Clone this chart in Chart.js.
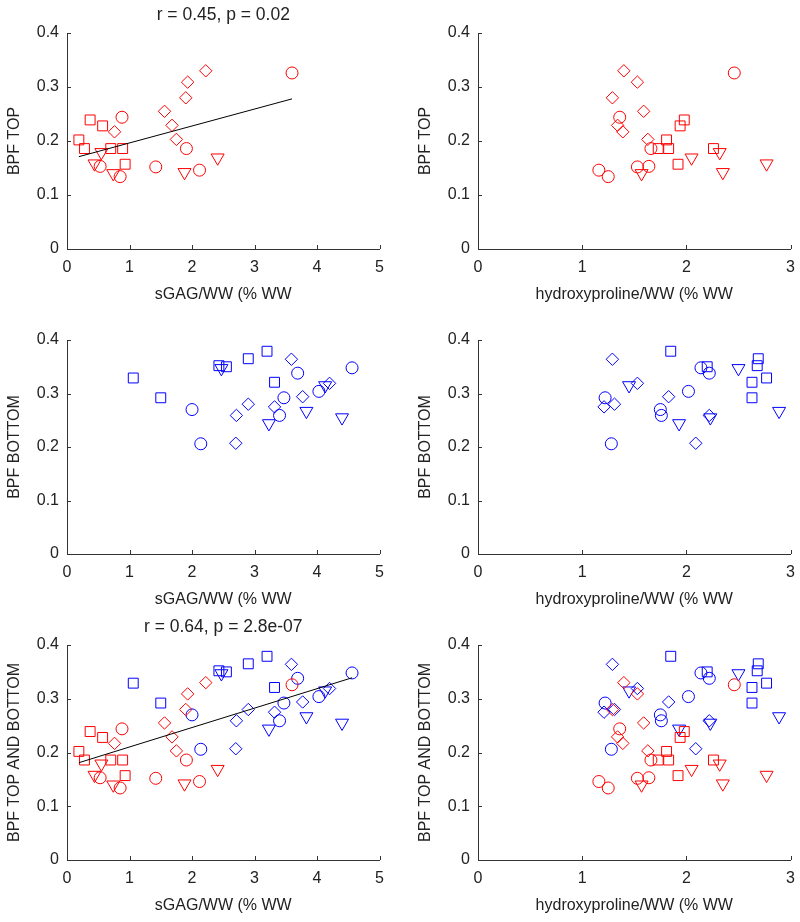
<!DOCTYPE html><html><head><title>BPF vs sGAG / hydroxyproline</title>
<style>html,body{margin:0;padding:0;background:#fff;width:800px;height:922px;overflow:hidden}.cell{position:absolute;width:393px}</style>
<script src="https://cdn.jsdelivr.net/npm/chart.js@4"></script>
</head><body>
<div class="cell" style="left:0;top:0;height:309px"><canvas id="c1"></canvas></div>
<div class="cell" style="left:411px;top:0;height:309px"><canvas id="c2"></canvas></div>
<div class="cell" style="left:0;top:307px;height:307px"><canvas id="c3"></canvas></div>
<div class="cell" style="left:411px;top:307px;height:307px"><canvas id="c4"></canvas></div>
<div class="cell" style="left:0;top:612px;height:308px"><canvas id="c5"></canvas></div>
<div class="cell" style="left:411px;top:612px;height:308px"><canvas id="c6"></canvas></div>
<script>
// TOP samples (red)
const topCircleSgag = [0.88, 0.53, 0.85, 1.42, 1.91, 2.12, 3.60];
const topCircleHyp  = [1.36, 1.64, 1.25, 1.53, 1.66, 1.16, 2.46];
const topCircleBpf  = [0.244, 0.153, 0.134, 0.152, 0.186, 0.146, 0.326];
const topSquareSgag = [0.19, 0.28, 0.37, 0.57, 0.70, 0.89, 0.93];
const topSquareHyp  = [1.81, 1.73, 1.98, 1.94, 1.83, 2.26, 1.92];
const topSquareBpf  = [0.202, 0.186, 0.239, 0.228, 0.186, 0.186, 0.157];
const topDiamondSgag = [2.22, 1.93, 1.90, 1.56, 1.68, 1.75, 0.76];
const topDiamondHyp  = [1.40, 1.53, 1.29, 1.59, 1.34, 1.63, 1.39];
const topDiamondBpf  = [0.330, 0.309, 0.280, 0.255, 0.229, 0.203, 0.217];
const topTriSgag = [0.55, 0.44, 0.74, 1.88, 2.41];
const topTriHyp  = [2.32, 2.77, 1.57, 2.35, 2.05];
const topTriBpf  = [0.179, 0.158, 0.140, 0.142, 0.169];
// BOTTOM samples (blue)
const botCircleSgag = [2.00, 2.14, 3.47, 3.40, 3.69, 4.03, 4.56];
const botCircleHyp  = [1.75, 1.28, 1.22, 1.76, 2.22, 2.02, 2.14];
const botCircleBpf  = [0.270, 0.206, 0.292, 0.259, 0.338, 0.304, 0.348];
const botSquareSgag = [1.06, 1.50, 2.43, 2.55, 2.90, 3.20, 3.32];
const botSquareHyp  = [2.77, 2.63, 2.68, 2.20, 2.69, 1.85, 2.63];
const botSquareBpf  = [0.329, 0.292, 0.352, 0.350, 0.365, 0.379, 0.321];
const botDiamondSgag = [3.59, 2.90, 2.71, 2.70, 3.32, 3.77, 4.20];
const botDiamondHyp  = [1.29, 1.31, 2.22, 2.09, 1.21, 1.83, 1.53];
const botDiamondBpf  = [0.364, 0.280, 0.259, 0.207, 0.275, 0.294, 0.319];
const botTriSgag = [2.47, 3.23, 3.83, 4.40, 4.13];
const botTriHyp  = [2.50, 1.93, 2.89, 2.23, 1.45];
const botTriBpf  = [0.347, 0.244, 0.267, 0.255, 0.315];
// fitted lines (end points)
const topFitX = [0.19, 3.60], topFitY = [0.171, 0.278];
const allFitX = [0.19, 4.56], allFitY = [0.181, 0.339];
const yTicks = [0, 0.1, 0.2, 0.3, 0.4];

const RED = '#ff0000', BLUE = '#0000ff', AXIS = '#333';
Chart.defaults.font.family = '"Liberation Sans", Arial, sans-serif';
Chart.defaults.color = '#222';

const pts = (xs, ys) => xs.map((x, i) => ({x, y: ys[i]}));
const mk = (xs, ys, style, color) => ({
  type: 'scatter', data: pts(xs, ys), borderColor: color, backgroundColor: 'rgba(0,0,0,0)',
  pointStyle: style === 'tri' ? 'triangle' : style, pointRotation: style === 'tri' ? 180 : 0,
  pointRadius: {circle: 6, rect: 7, rectRot: 6.2, tri: 7.5}[style], pointBorderWidth: 1, pointHoverRadius: 0
});
const fit = (xs, ys) => ({type: 'line', data: pts(xs, ys), borderColor: '#000', borderWidth: 1, pointRadius: 0, showLine: true});

const topSets = (xKey) => {
  const sg = xKey === 'sgag';
  return [
    mk(sg ? topCircleSgag : topCircleHyp, topCircleBpf, 'circle', RED),
    mk(sg ? topSquareSgag : topSquareHyp, topSquareBpf, 'rect', RED),
    mk(sg ? topDiamondSgag : topDiamondHyp, topDiamondBpf, 'rectRot', RED),
    mk(sg ? topTriSgag : topTriHyp, topTriBpf, 'tri', RED)];
};
const botSets = (xKey) => {
  const sg = xKey === 'sgag';
  return [
    mk(sg ? botCircleSgag : botCircleHyp, botCircleBpf, 'circle', BLUE),
    mk(sg ? botSquareSgag : botSquareHyp, botSquareBpf, 'rect', BLUE),
    mk(sg ? botDiamondSgag : botDiamondHyp, botDiamondBpf, 'rectRot', BLUE),
    mk(sg ? botTriSgag : botTriHyp, botTriBpf, 'tri', BLUE)];
};

// matlab-style tick marks pointing into the plot
const inwardTicks = {
  id: 'inwardTicks',
  afterDraw(chart) {
    const {ctx, chartArea: a} = chart, xs = chart.scales.x, ys = chart.scales.y;
    ctx.save(); ctx.strokeStyle = AXIS; ctx.lineWidth = 1; ctx.beginPath();
    xs.ticks.forEach(t => { const p = Math.round(xs.getPixelForValue(t.value)) + 0.5; ctx.moveTo(p, a.bottom); ctx.lineTo(p, a.bottom - 4); });
    ys.ticks.forEach(t => { const p = Math.round(ys.getPixelForValue(t.value)) + 0.5; ctx.moveTo(a.left, p); ctx.lineTo(a.left + 4, p); });
    ctx.stroke(); ctx.restore();
  }
};

const draw = (id, datasets, xMax, xLabel, yLabel, title) => new Chart(document.getElementById(id), {
  data: {datasets},
  plugins: [inwardTicks],
  options: {
    responsive: true, maintainAspectRatio: false, animation: false,
    layout: {padding: {left: 0, right: 13, top: title ? 0 : 33, bottom: 0}},
    plugins: {
      legend: {display: false}, tooltip: {enabled: false},
      title: {display: !!title, text: title, fullSize: false, color: '#222', font: {size: 17.5, weight: 'normal'}, padding: {top: 5, bottom: 7}}
    },
    scales: {
      x: {type: 'linear', min: 0, max: xMax,
        ticks: {stepSize: 1, font: {size: 16}, padding: 9, maxRotation: 0},
        grid: {display: false, drawTicks: false}, border: {display: true, color: AXIS, width: 1},
        title: {display: true, text: xLabel, font: {size: 16}, padding: {top: 0, bottom: 4.5}},
        afterFit: s => { s.height = 60; }},
      y: {type: 'linear', min: 0, max: 0.4,
        afterBuildTicks: s => { s.ticks = yTicks.map(v => ({value: v})); },
        ticks: {font: {size: 16}, padding: 8, callback: v => String(+v.toFixed(1))},
        grid: {display: false, drawTicks: false}, border: {display: true, color: AXIS, width: 1},
        title: {display: true, text: yLabel, font: {size: 16}, padding: {top: 5, bottom: 0}},
        afterFit: s => { s.width = 67; }}
    }
  }
});

draw('c1', [fit(topFitX, topFitY), ...topSets('sgag')], 5, 'sGAG/WW (% WW', 'BPF TOP', 'r = 0.45, p = 0.02');
draw('c2', topSets('hyp'), 3, 'hydroxyproline/WW (% WW', 'BPF TOP');
draw('c3', botSets('sgag'), 5, 'sGAG/WW (% WW', 'BPF BOTTOM');
draw('c4', botSets('hyp'), 3, 'hydroxyproline/WW (% WW', 'BPF BOTTOM');
draw('c5', [fit(allFitX, allFitY), ...topSets('sgag'), ...botSets('sgag')], 5, 'sGAG/WW (% WW', 'BPF TOP AND BOTTOM', 'r = 0.64, p = 2.8e-07');
draw('c6', [...topSets('hyp'), ...botSets('hyp')], 3, 'hydroxyproline/WW (% WW', 'BPF TOP AND BOTTOM');
</script>
</body></html>
